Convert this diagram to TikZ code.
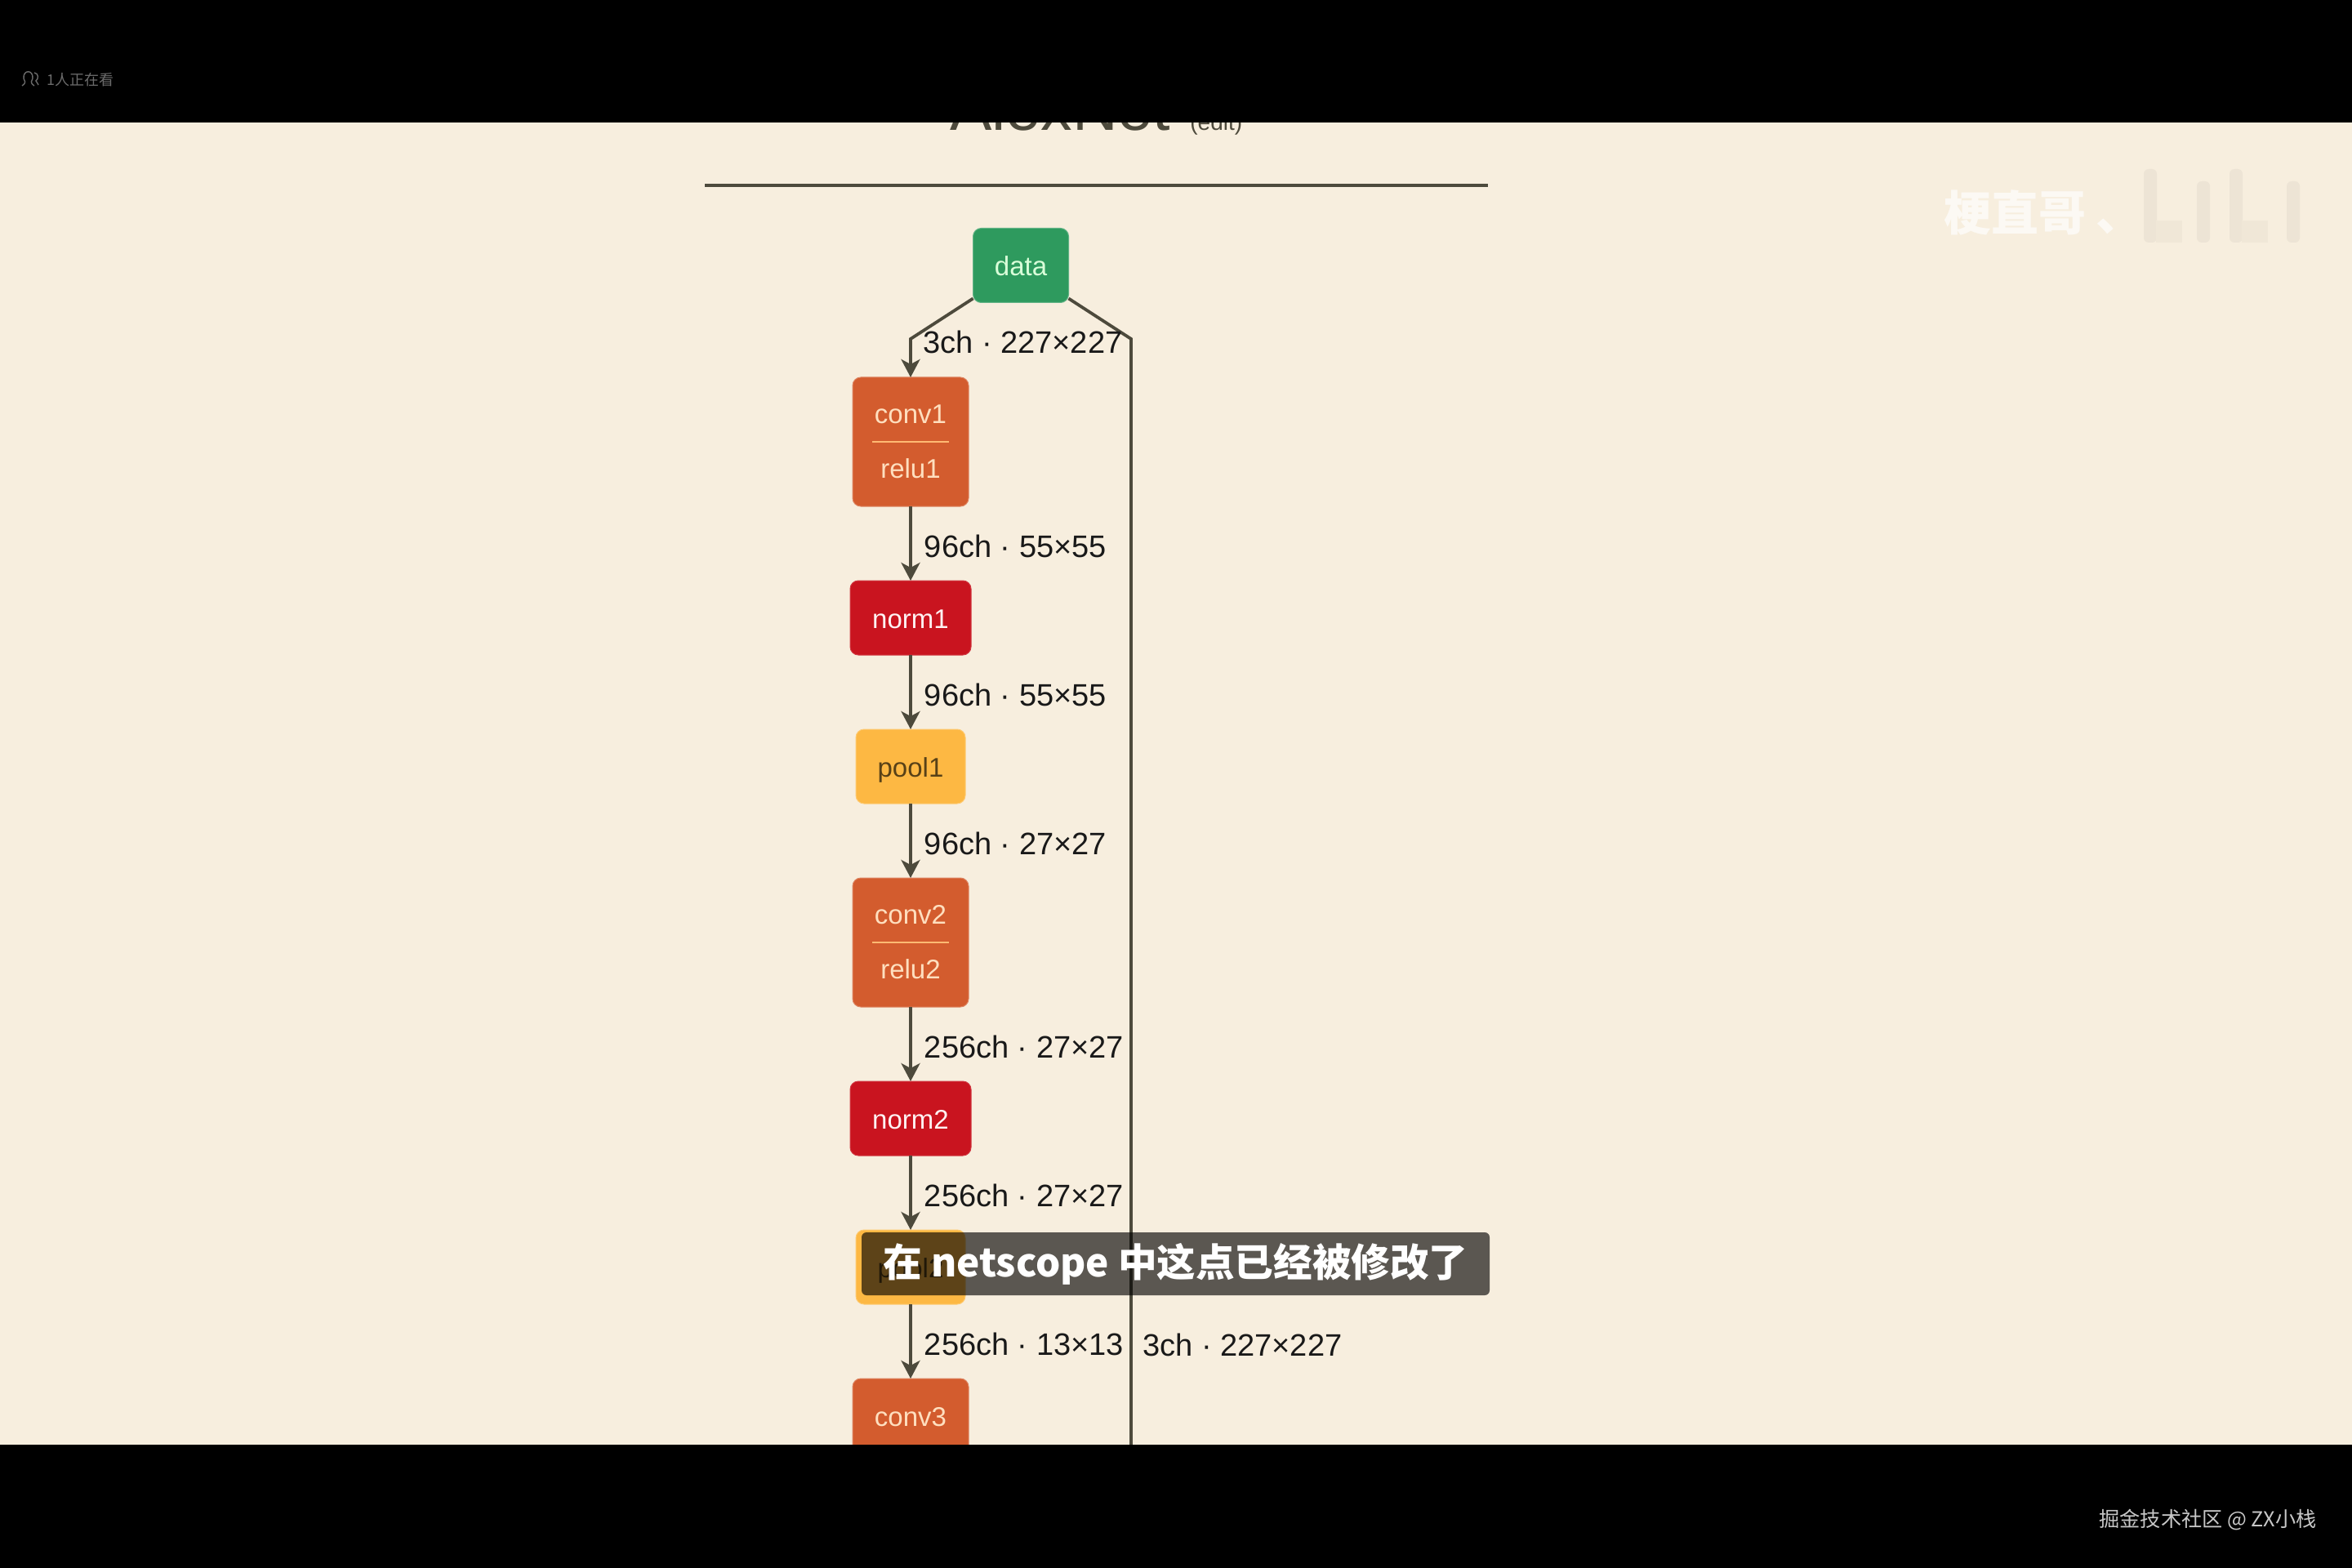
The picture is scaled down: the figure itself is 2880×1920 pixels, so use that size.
\documentclass[tikz,border=0pt]{standalone}
\usepackage{xcolor}
\usepackage{fontspec}
\setmainfont{Liberation Sans}
\newfontfamily\cjk{Noto Sans CJK SC}
\usepackage{tikz}
\usetikzlibrary{shapes,arrows.meta,positioning,calc}
\definecolor{paper}{HTML}{F7EEDE}
\definecolor{ink}{HTML}{4D4A3C}
\definecolor{greenbox}{HTML}{2E9A5E}
\definecolor{orangebox}{HTML}{D35C2E}
\definecolor{redbox}{HTML}{C9141F}
\definecolor{yellowbox}{HTML}{FDB843}

\begin{document}
\begin{tikzpicture}[
    x=0.5pt, y=-0.5pt,
    node distance=45.5pt and 20pt,
    box/.style={rectangle, rounded corners=5pt, align=center, outer sep=0pt, inner sep=0pt, line width=0.5pt},
    one/.style={minimum height=45.5pt, text height=13pt, text depth=0pt, font=\fontsize{16.5}{20}\selectfont},
    bdata/.style={box, one, draw=greenbox!75!white, fill=greenbox, text=green!15!white, minimum width=58.5pt},
    bnorm/.style={box, one, draw=redbox!85!white, fill=redbox, text=red!5!white, minimum width=74pt},
    bpool/.style={box, one, draw=yellowbox!75!white, fill=yellowbox, text=yellowbox!35!black, minimum width=67pt},
    bconv/.style={box, draw=orangebox!75!white, fill=orangebox, text=orange!25!white, minimum width=71pt, minimum height=79pt, font=\fontsize{16.5}{33.5}\selectfont},
    sep/.style={draw=orange!55!white, line width=0.6pt},
    arr/.style={-{Stealth[length=11pt,width=11.5pt,inset=3pt]}, line width=1.9pt, draw=ink},
    skip/.style={line width=1.9pt, draw=ink},
    lbl/.style={anchor=west, inner sep=0pt, text=black!90, font=\fontsize{19}{22}\selectfont},
    elbl/.style={lbl, xshift=7.5pt, yshift=-1.5pt}
]
    \fill [paper] (0,0) rectangle (2880,1920);
    \useasboundingbox (0,0) rectangle (2880,1920);

    \node [anchor=base west, inner sep=0pt, text=ink, font=\fontsize{38.5}{40}\selectfont] (title) at (1163,160) {AlexNet};
    \node [anchor=base west, inner sep=0pt, text=ink, font=\fontsize{14}{16}\selectfont] (edit) at (1457,160) {(edit)};
    \coordinate (ruleL) at (863,227);
    \coordinate (ruleR) at (1822,227);
    \draw [ink, line width=1.6pt] (ruleL) -- (ruleR);

    % watermark
    \node [anchor=west, inner sep=0pt, text=white!65!paper, font=\cjk\bfseries\fontsize{29}{32}\selectfont] (mark) at (2380,260) {梗直哥\hspace{6pt}、};
    \foreach \x/\top in {2625/207, 2690/222, 2730/207, 2800/222} {
        \fill [black!4!paper, rounded corners=3pt] (\x,\top) rectangle ++(16,{297-\top});
    }
    \fill [black!3!paper] (2640,270) rectangle (2672,297);
    \fill [black!3!paper] (2745,270) rectangle (2777,297);

    \node [bdata] (data) at (1250,325) {data};
    \node [bconv] (conv1) at (1115,541) {conv1\\relu1};
    \node [bnorm, below=of conv1] (norm1) {norm1};
    \node [bpool, below=of norm1] (pool1) {pool1};
    \node [bconv, below=of pool1] (conv2) {conv2\\relu2};
    \node [bnorm, below=of conv2] (norm2) {norm2};
    \node [bpool, below=of norm2] (pool2) {pool2};
    \node [bconv, one, below=of pool2] (conv3) {conv3};

    \draw [sep] ([xshift=12pt]conv1.west) -- ([xshift=-12pt]conv1.east);
    \draw [sep] ([xshift=12pt]conv2.west) -- ([xshift=-12pt]conv2.east);

    \coordinate (bendL) at (1115,415);
    \coordinate (bendR) at (1385,415);
    \coordinate (skipEnd) at (1385,1790);
    \draw [arr] ([yshift=2.5pt]data.south west) -- (bendL) -- (conv1);
    \draw [skip] ([yshift=2.5pt]data.south east) -- (bendR) -- (skipEnd);

    \draw [arr] (conv1) -- node [elbl] {96ch · 55×55} (norm1);
    \draw [arr] (norm1) -- node [elbl] {96ch · 55×55} (pool1);
    \draw [arr] (pool1) -- node [elbl] {96ch · 27×27} (conv2);
    \draw [arr] (conv2) -- node [elbl] {256ch · 27×27} (norm2);
    \draw [arr] (norm2) -- node [elbl] {256ch · 27×27} (pool2);
    \draw [arr] (pool2) -- node [elbl] {256ch · 13×13} (conv3);
    \node [lbl] (top) at (1130,419) {3ch · 227×227};
    \node [lbl] (skipL) at (1399,1647) {3ch · 227×227};

    % caption over the picture
    \node [rectangle, rounded corners=3pt, fill=black, fill opacity=.63, text opacity=1, text=white, minimum width=384.5pt, minimum height=38.5pt, inner sep=0pt, font=\cjk\bfseries\fontsize{23.8}{26}\selectfont] (caption) at (1439.5,1547.5) {在 netscope 中这点已经被修改了};

    % video bars
    \fill [black] (0,0) rectangle (2880,150);
    \fill [black] (0,1769) rectangle (2880,1920);
    \node [anchor=west, inner sep=0pt, text=black!58, font=\cjk\fontsize{9}{10}\selectfont] (viewers) at (57,98) {1人正在看};
    \draw [black!58, line width=0.7pt] (27,105) .. controls (33,101) and (30,99) .. (29,96) .. controls (28,85) and (41,85) .. (40,96) .. controls (39,99) and (36,101) .. (42,105);
    \draw [black!58, line width=0.7pt] (42,89) .. controls (48,90) and (47,97) .. (44,99) .. controls (45,102) and (47,102) .. (47,104);
    \node [anchor=west, inner sep=0pt, text=black!22, font=\cjk\fontsize{12.6}{14}\selectfont] (credit) at (2570,1861) {掘金技术社区 @ ZX小栈};
\end{tikzpicture}
\end{document}
